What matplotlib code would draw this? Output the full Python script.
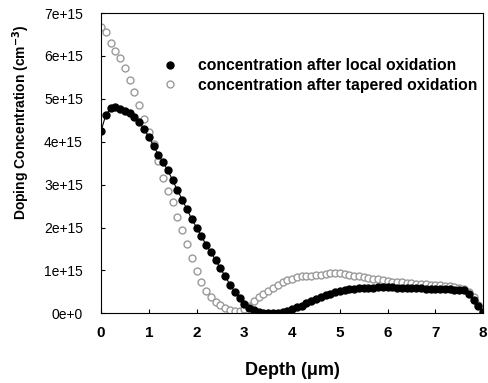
import matplotlib
matplotlib.use("Agg")
import matplotlib.pyplot as plt
import numpy as np

plt.rcParams['font.family'] = ['Liberation Sans', 'DejaVu Sans']

depth = [round(0.1 * i, 1) for i in range(81)]

local_ox = [4.25, 4.62, 4.78, 4.80, 4.76, 4.71, 4.66, 4.58, 4.45, 4.30,
            4.12, 3.90, 3.70, 3.52, 3.33, 3.10, 2.87, 2.65, 2.42, 2.20,
            2.00, 1.80, 1.60, 1.42, 1.24, 1.05, 0.86, 0.67, 0.50, 0.35,
            0.22, 0.13, 0.07, 0.03, 0.01, 0.00, 0.00, 0.01, 0.03, 0.06,
            0.10, 0.14, 0.18, 0.23, 0.28, 0.33, 0.37, 0.42, 0.46, 0.49,
            0.52, 0.54, 0.56, 0.57, 0.58, 0.59, 0.60, 0.60, 0.61, 0.61,
            0.61, 0.61, 0.60, 0.60, 0.59, 0.59, 0.58, 0.58, 0.57, 0.57,
            0.57, 0.56, 0.56, 0.56, 0.55, 0.55, 0.54, 0.46, 0.32, 0.16,
            0.02]

tapered_ox = [6.68, 6.55, 6.30, 6.12, 5.95, 5.72, 5.45, 5.15, 4.85, 4.52,
              4.22, 3.95, 3.55, 3.15, 2.85, 2.60, 2.25, 1.95, 1.62, 1.30,
              0.98, 0.72, 0.52, 0.38, 0.27, 0.19, 0.13, 0.08, 0.05, 0.05,
              0.09, 0.18, 0.28, 0.37, 0.45, 0.52, 0.59, 0.66, 0.72, 0.77,
              0.81, 0.84, 0.86, 0.87, 0.88, 0.89, 0.90, 0.91, 0.93, 0.95,
              0.94, 0.92, 0.90, 0.88, 0.87, 0.85, 0.83, 0.81, 0.79, 0.78,
              0.76, 0.74, 0.73, 0.72, 0.71, 0.70, 0.69, 0.69, 0.68, 0.67,
              0.66, 0.65, 0.64, 0.63, 0.62, 0.60, 0.56, 0.50, 0.38, 0.20,
              0.02]

yticks = [0, 1e15, 2e15, 3e15, 4e15, 5e15, 6e15, 7e15]
ytick_labels = ["0e+0", "1e+15", "2e+15", "3e+15", "4e+15", "5e+15", "6e+15", "7e+15"]
xticks = [0, 1, 2, 3, 4, 5, 6, 7, 8]

fig = plt.figure(figsize=(4.88, 3.83), dpi=100)
ax = fig.add_axes([0.207, 0.182, 0.783, 0.784])

ax.plot(depth, np.array(tapered_ox) * 1e15, linestyle='none', marker='o',
        markersize=5, markerfacecolor='white', markeredgecolor='#9a9a9a',
        markeredgewidth=1.0, label='concentration after tapered oxidation', zorder=2)
ax.plot(depth, np.array(local_ox) * 1e15, color='black', linewidth=0.8, marker='o',
        markersize=5, markerfacecolor='black', markeredgecolor='black',
        label='concentration after local oxidation', zorder=3)

ax.set_xlim(0, 8)
ax.set_ylim(0, 7e15)
ax.set_xticks(xticks)
ax.set_xticklabels([str(t) for t in xticks], fontweight='bold')
ax.set_yticks(yticks)
ax.set_yticklabels(ytick_labels)
ax.tick_params(direction='in', length=3, labelsize=10)
ax.tick_params(axis='x', pad=9, labelsize=11)
ax.tick_params(axis='y', pad=13)

ax.set_xlabel('Depth (\u03bcm)', fontsize=13, fontweight='bold', labelpad=16)
ax.set_ylabel('Doping Concentration (cm$^{\\mathbf{-3}}$)', fontsize=10,
              fontweight='bold')
ax.yaxis.set_label_coords(-0.18, 0.635)

handles, labels = ax.get_legend_handles_labels()
leg = ax.legend(handles[::-1], labels[::-1], loc='upper left',
                bbox_to_anchor=(0.14, 0.87), frameon=False,
                prop={'weight': 'bold', 'size': 11.3}, handletextpad=1.15,
                labelspacing=0.28, handlelength=1.2, borderaxespad=0)
leg.legend_handles[0].set_linestyle('none')

fig.savefig('out.png', dpi=100)
